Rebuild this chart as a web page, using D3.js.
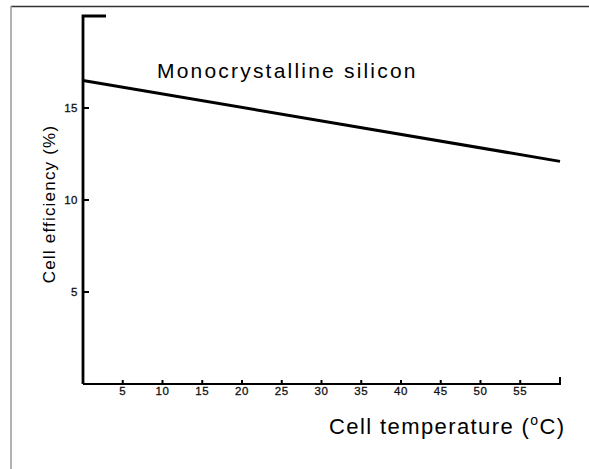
<!DOCTYPE html>
<html>
<head>
<meta charset="utf-8">
<script src="https://cdn.jsdelivr.net/npm/d3@7"></script>
<style>
  body { margin: 0; background: #fff; }
  text { font-family: "Liberation Sans", Arial, Helvetica, sans-serif; }
</style>
</head>
<body>
<svg id="chart" width="589" height="469"></svg>
<script>
// data
const temps = [0, 60]
const efficiency = [16.5, 12.1]
const xTicks = [5, 10, 15, 20, 25, 30, 35, 40, 45, 50, 55]
const yTicks = [5, 10, 15]
const seriesName = 'Monocrystalline silicon'

const svg = d3.select('#chart')

// frame lines of the figure
svg.append('line')
  .attr('x1', 11).attr('y1', 6.5).attr('x2', 589).attr('y2', 6.5)
  .attr('stroke', '#333').attr('stroke-width', 1.5)
svg.append('line')
  .attr('x1', 11).attr('y1', 6).attr('x2', 11).attr('y2', 469)
  .attr('stroke', '#999').attr('stroke-width', 1.5)

const x = d3.scaleLinear().domain([0, 60]).range([83, 560])
const y = d3.scaleLinear().domain([0, 20]).range([384, 16])

// y axis with a short cap at the top
svg.append('path')
  .attr('d', 'M' + 106 + ',' + y(20) + 'H' + x(0) + 'V' + y(0))
  .attr('fill', 'none')
  .attr('stroke', '#000')
  .attr('stroke-width', 2.8)

// x axis with a small upturn at the right end
svg.append('path')
  .attr('d', 'M' + x(0) + ',' + y(0) + 'H' + x(60) + 'V' + (y(0) - 7))
  .attr('fill', 'none')
  .attr('stroke', '#000')
  .attr('stroke-width', 2)

// y ticks (inside) and labels
svg.selectAll('.ytick')
  .data(yTicks)
  .enter()
  .append('line')
  .attr('class', 'ytick')
  .attr('x1', x(0)).attr('x2', x(0) + 6)
  .attr('y1', d => y(d)).attr('y2', d => y(d))
  .attr('stroke', '#000').attr('stroke-width', 2)

svg.selectAll('.ylab')
  .data(yTicks)
  .enter()
  .append('text')
  .attr('class', 'ylab')
  .attr('x', 78)
  .attr('y', d => y(d))
  .attr('dy', '0.35em')
  .attr('text-anchor', 'end')
  .attr('font-size', 11.5)
  .attr('letter-spacing', 0.5)
  .attr('fill', '#111')
  .attr('stroke', '#111')
  .attr('stroke-width', 0.3)
  .text(d => d)

// x ticks (inside) and labels
svg.selectAll('.xtick')
  .data(xTicks)
  .enter()
  .append('line')
  .attr('class', 'xtick')
  .attr('x1', d => x(d)).attr('x2', d => x(d))
  .attr('y1', y(0)).attr('y2', y(0) - 4)
  .attr('stroke', '#000').attr('stroke-width', 2)

svg.selectAll('.xlab')
  .data(xTicks)
  .enter()
  .append('text')
  .attr('class', 'xlab')
  .attr('x', d => x(d))
  .attr('y', 395)
  .attr('text-anchor', 'middle')
  .attr('font-size', 11.5)
  .attr('letter-spacing', 0.5)
  .attr('fill', '#111')
  .attr('stroke', '#111')
  .attr('stroke-width', 0.3)
  .text(d => d)

// the efficiency line
const line = d3.line()
  .x(d => x(d[0]))
  .y(d => y(d[1]))

svg.append('path')
  .datum(d3.zip(temps, efficiency))
  .attr('d', line)
  .attr('fill', 'none')
  .attr('stroke', '#000')
  .attr('stroke-width', 3)

// series label
svg.append('text')
  .attr('x', 157)
  .attr('y', 78)
  .attr('font-size', 21)
  .attr('letter-spacing', 2.2)
  .attr('fill', '#000')
  .text(seriesName)

// axis titles
const xTitle = svg.append('text')
  .attr('x', 329)
  .attr('y', 434)
  .attr('font-size', 22)
  .attr('letter-spacing', 1.4)
  .attr('fill', '#000')
xTitle.append('tspan').text('Cell temperature (')
xTitle.append('tspan').attr('font-size', 14).attr('dy', -9).text('o')
xTitle.append('tspan').attr('dy', 9).text('C)')

svg.append('text')
  .attr('transform', 'translate(55,204) rotate(-90)')
  .attr('text-anchor', 'middle')
  .attr('font-size', 17)
  .attr('letter-spacing', 1.2)
  .attr('fill', '#000')
  .text('Cell efficiency (%)')
</script>
</body>
</html>
